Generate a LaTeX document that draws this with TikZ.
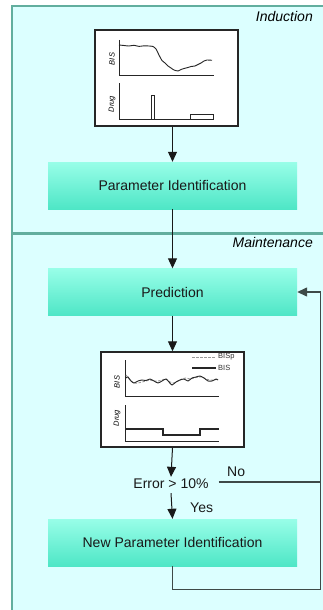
\documentclass[tikz,border=0pt]{standalone}
\usepackage{fontspec}
\setmainfont{Liberation Sans}
\usetikzlibrary{arrows.meta}
\definecolor{panelfill}{HTML}{DCFFFF}
\definecolor{panelline}{HTML}{62AE9E}
\definecolor{boxtop}{HTML}{98FEE8}
\definecolor{boxbot}{HTML}{4EE6C6}
\definecolor{loopline}{HTML}{3E4A48}
\tikzset{
  stage/.style={minimum width=249pt, minimum height=47pt, inner sep=0pt,
    top color=boxtop, bottom color=boxbot, text=black!90,
    font=\fontsize{14}{16}\selectfont},
  chartbox/.style={draw=black!85, line width=1.4pt, fill=white, inner sep=0pt},
  axis/.style={line width=1pt, black!85},
  axlabel/.style={font=\fontsize{7.5}{8}\selectfont\itshape, rotate=90, inner sep=0pt},
  flow/.style={line width=1pt, black!90, -{Triangle[width=9pt,length=10pt]}},
  plain/.style={line width=1pt, black!90},
  phase/.style={font=\fontsize{14}{16}\selectfont\itshape, anchor=north east, inner sep=0pt},
  txt/.style={font=\fontsize{14}{16}\selectfont, text=black!90},
}
\begin{document}
\begin{tikzpicture}[x=1pt, y=-1pt]
\useasboundingbox (0,0) rectangle (323,610);
% phase panels
\fill[panelfill] (12,6) rectangle (330,615);
\draw[panelline, line width=2.5pt] (12,620) -- (12,6) -- (330,6);
\draw[panelline, line width=2.5pt] (12,233.5) -- (330,233.5);
\node[phase] (ind) at (313,11) {Induction};
\node[phase] (mnt) at (313,237) {Maintenance};

% induction chart
\node[chartbox, minimum width=143pt, minimum height=96pt] (ch1) at (166.5,78) {};
\draw[axis] (119,40) -- (119,75) -- (214,75);
\draw[axis] (119,83) -- (119,119) -- (214,119);
\node[axlabel] (b1) at (112,59) {BIS};
\node[axlabel] (d1) at (112,104) {Drug};
\draw[line width=0.9pt, black!85] plot[smooth, tension=0.4] coordinates {
  (119,45) (124,45.5) (129,46) (134,45.3) (139,46.4) (144,45.8) (149,46) (153,46.5)
  (156,49) (158,53) (160,57) (162,60.5) (165,63) (168,66) (171,68) (174,70)
  (178,71) (181,69.5) (184,68.5) (188,67.5) (191,66.5) (195,66) (198,64.5)
  (201,63) (204,61) (207,60) (212,60.3)};
\draw[line width=0.9pt, black!85] (151,119) rectangle (154,95);
\draw[line width=0.9pt, black!85] (190,119) rectangle (213,114);

% induction stage
\node[stage] (pid) at (172.5,185.5) {Parameter Identification};
\draw[flow] (ch1.south -| pid.north) -- (pid.north);

% maintenance stages
\node[stage] (pred) at (172.5,292) {Prediction};
\draw[flow] (pid.south) -- (pred.north);

% maintenance chart
\node[chartbox, minimum width=143pt, minimum height=95pt] (ch2) at (172.5,399.5) {};
\draw[flow] (pred.south) -- (ch2.north);
\draw[axis] (125,360) -- (125,396) -- (219,396);
\draw[axis] (125,405) -- (125,441) -- (219,441);
\node[axlabel] (b2) at (117,382) {BIS};
\node[axlabel] (d2) at (117,418) {Drug};
\draw[gray!80, line width=0.9pt, dash pattern=on 2.5pt off 1.5pt] plot[smooth, tension=0.4] coordinates {
  (126,375) (130,380) (134,383) (138,383) (142,382) (146,381) (150,380) (154,381)
  (158,381) (162,380) (166,379) (170,382) (174,383) (178,381) (182,379) (186,378)
  (190,379) (194,378) (198,377) (202,377) (206,379) (210,380) (214,380) (218,379)};
\draw[black!85, line width=0.9pt] plot[smooth, tension=0.4] coordinates {
  (126,378) (128,377) (131,381) (134,383) (138,381) (142,380) (146,380.5) (150,379)
  (154,381) (158,383) (162,381) (166,379) (169,382) (172,385) (176,382) (180,380)
  (184,379) (188,381) (192,378) (196,377) (200,376) (204,378) (208,381) (212,381)
  (216,379) (218,380)};
\draw[gray!80, line width=0.9pt, dash pattern=on 2.5pt off 1.5pt] (192,357) -- (216,357);
\draw[black!85, line width=1.2pt] (192,368) -- (216,368);
\node[font=\fontsize{7.5}{8}\selectfont, anchor=west, inner sep=0pt, text=black!80] (lg1) at (218,356.5) {BISp};
\node[font=\fontsize{7.5}{8}\selectfont, anchor=west, inner sep=0pt, text=black!80] (lg2) at (218,367.5) {BIS};
\draw[black!85, line width=1.4pt] (125,429) -- (163,429) -- (163,435) -- (200,435) -- (200,429) -- (219,429);

% decision
\node[txt, inner sep=2pt] (err) at (171,484) {Error > 10\%};
\draw[flow] (ch2.south) -- (err.north);
\node[stage] (npi) at (172.5,542.5) {New Parameter Identification};
\draw[flow] ([yshift=-2pt]err.south) -- (npi.north);
\node[txt, anchor=west, inner sep=0pt] (yes) at (190,508) {Yes};
\node[txt, anchor=west, inner sep=0pt] (no) at (227,472) {No};

% feedback loop
\coordinate (nocorner) at (320.5,482);
\coordinate (loopbot) at (320.5,589.5);
\draw[loopline, line width=1.4pt] ([xshift=8pt, yshift=2pt]err.east) -- (nocorner);
\draw[loopline, line width=1.4pt, -{Triangle[width=9pt,length=10pt]}] (npi.south) |- (loopbot) |- (pred.east);
\end{tikzpicture}
\end{document}
